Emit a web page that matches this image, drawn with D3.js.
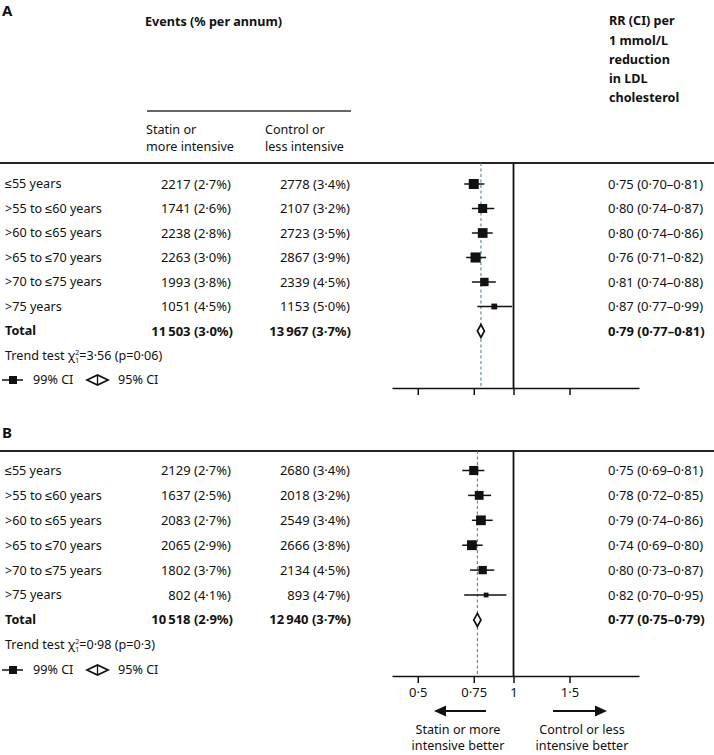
<!DOCTYPE html>
<html><head><meta charset="utf-8">
<script src="https://cdn.jsdelivr.net/npm/d3@7"></script>
<style>
html,body{margin:0;padding:0;background:#fff;}
svg text{font-family:"Noto Sans",sans-serif;fill:#111;}
</style></head>
<body><svg id="chart" width="714" height="755"></svg>
<script>
// ---------- DATA ----------
const ageGroups = ["≤55 years", ">55 to ≤60 years", ">60 to ≤65 years", ">65 to ≤70 years", ">70 to ≤75 years", ">75 years"];

const statinEventsA = [2217, 1741, 2238, 2263, 1993, 1051];
const statinPctA    = [2.7, 2.6, 2.8, 3.0, 3.8, 4.5];
const controlEventsA = [2778, 2107, 2723, 2867, 2339, 1153];
const controlPctA    = [3.4, 3.2, 3.5, 3.9, 4.5, 5.0];
const rrA   = [0.75, 0.80, 0.80, 0.76, 0.81, 0.87];
const rrLoA = [0.70, 0.74, 0.74, 0.71, 0.74, 0.77];
const rrHiA = [0.81, 0.87, 0.86, 0.82, 0.88, 0.99];
const totalA = {statin: 11503, statinPct: 3.0, control: 13967, controlPct: 3.7, rr: 0.79, lo: 0.77, hi: 0.81};
const trendA = {chi: "3·56", p: "0·06"};

const statinEventsB = [2129, 1637, 2083, 2065, 1802, 802];
const statinPctB    = [2.7, 2.5, 2.7, 2.9, 3.7, 4.1];
const controlEventsB = [2680, 2018, 2549, 2666, 2134, 893];
const controlPctB    = [3.4, 3.2, 3.4, 3.8, 4.5, 4.7];
const rrB   = [0.75, 0.78, 0.79, 0.74, 0.80, 0.82];
const rrLoB = [0.69, 0.72, 0.74, 0.69, 0.73, 0.70];
const rrHiB = [0.81, 0.85, 0.86, 0.80, 0.87, 0.95];
const totalB = {statin: 10518, statinPct: 2.9, control: 12940, controlPct: 3.7, rr: 0.77, lo: 0.75, hi: 0.79};
const trendB = {chi: "0·98", p: "0·3"};

const tickValues = [0.5, 0.75, 1, 1.5];
const tickLabels = ["0·5", "0·75", "1", "1·5"];

// ---------- HELPERS ----------
const FS = 12.6;   // word text
const FN = 13;     // numeric columns
const dot = s => String(s).replace(".", "·");
const fmtInt = n => n >= 10000 ? String(n).replace(/(\d)(?=(\d{3})+$)/g, "$1\u2009") : String(n);
const fmtPct = p => dot(p.toFixed(1)) + "%";
const fmtRR = v => dot(v.toFixed(2));

const svg = d3.select("#chart");
const x = d3.scaleLog().domain([0.415, 2.48]).range([392, 639]);
const sideK = 1.46; // square side ~ inverse of log CI width

function panel(cfg) {
  const g = svg.append("g");
  const rowY = i => cfg.rowTop + i * cfg.step;

  g.append("text").attr("x", 2).attr("y", cfg.letterY).attr("font-size", 15).attr("font-weight", 700).text(cfg.letter);

  g.append("line").attr("x1", 0).attr("x2", 714).attr("y1", cfg.ruleY).attr("y2", cfg.ruleY)
    .attr("stroke", "#222").attr("stroke-width", 2.2);

  const n = ageGroups.length;
  for (let i = 0; i < n; i++) {
    const y = rowY(i);
    g.append("text").attr("x", 5).attr("y", y).attr("dy", "0.35em").attr("font-size", FS).text(ageGroups[i]);
    g.append("text").attr("x", 231).attr("y", y).attr("dy", "0.35em").attr("font-size", FN).attr("text-anchor", "end")
      .text(fmtInt(cfg.statin[i]) + " (" + fmtPct(cfg.statinPct[i]) + ")");
    g.append("text").attr("x", 350).attr("y", y).attr("dy", "0.35em").attr("font-size", FN).attr("text-anchor", "end")
      .text(fmtInt(cfg.control[i]) + " (" + fmtPct(cfg.controlPct[i]) + ")");
    g.append("text").attr("x", 608).attr("y", y).attr("dy", "0.35em").attr("font-size", FN)
      .text(fmtRR(cfg.rr[i]) + " (" + fmtRR(cfg.lo[i]) + "–" + fmtRR(cfg.hi[i]) + ")");
  }
  const yT = rowY(n);
  const t = cfg.total;
  g.append("text").attr("x", 5).attr("y", yT).attr("dy", "0.35em").attr("font-size", FS).attr("font-weight", 700).text("Total");
  g.append("text").attr("x", 233).attr("y", yT).attr("dy", "0.35em").attr("font-size", FN).attr("font-weight", 700).attr("text-anchor", "end")
    .text(fmtInt(t.statin) + " (" + fmtPct(t.statinPct) + ")");
  g.append("text").attr("x", 351).attr("y", yT).attr("dy", "0.35em").attr("font-size", FN).attr("font-weight", 700).attr("text-anchor", "end")
    .text(fmtInt(t.control) + " (" + fmtPct(t.controlPct) + ")");
  g.append("text").attr("x", 608).attr("y", yT).attr("dy", "0.35em").attr("font-size", FN).attr("font-weight", 700)
    .text(fmtRR(t.rr) + " (" + fmtRR(t.lo) + "–" + fmtRR(t.hi) + ")");

  const tt = g.append("text").attr("x", 5).attr("y", cfg.trendY).attr("dy", "0.35em").attr("font-size", FS);
  tt.append("tspan").text("Trend test χ");
  tt.append("tspan").attr("font-size", 7).attr("dy", -5).text("2");
  tt.append("tspan").attr("font-size", 7).attr("dx", -4).attr("dy", 8).text("1");
  tt.append("tspan").attr("dy", -3).text("=" + cfg.trend.chi + " (p=" + cfg.trend.p + ")");

  const ly = cfg.legendY;
  g.append("line").attr("x1", 2).attr("x2", 23).attr("y1", ly).attr("y2", ly).attr("stroke", "#111").attr("stroke-width", 1.5);
  g.append("rect").attr("x", 9).attr("y", ly - 4).attr("width", 8).attr("height", 8).attr("fill", "#111");
  g.append("text").attr("x", 33).attr("y", ly).attr("dy", "0.35em").attr("font-size", FS).text("99% CI");
  g.append("path").attr("d", `M87,${ly} L97.5,${ly - 5} L108,${ly} L97.5,${ly + 5} Z`).attr("fill", "#fff").attr("stroke", "#111").attr("stroke-width", 1.7);
  g.append("line").attr("x1", 97.5).attr("x2", 97.5).attr("y1", ly - 5).attr("y2", ly + 5).attr("stroke", "#111").attr("stroke-width", 1.3);
  g.append("text").attr("x", 118).attr("y", ly).attr("dy", "0.35em").attr("font-size", FS).text("95% CI");

  g.append("line").attr("x1", x(1)).attr("x2", x(1)).attr("y1", cfg.ruleY).attr("y2", cfg.axisY)
    .attr("stroke", "#111").attr("stroke-width", 1.8);
  g.append("line").attr("x1", x(t.rr)).attr("x2", x(t.rr)).attr("y1", cfg.ruleY).attr("y2", cfg.axisY)
    .attr("stroke", "#5f8294").attr("stroke-width", 1.1).attr("stroke-dasharray", "3,2.5");

  for (let i = 0; i < n; i++) {
    const y = rowY(i);
    g.append("line").attr("x1", x(cfg.lo[i])).attr("x2", x(cfg.hi[i])).attr("y1", y).attr("y2", y)
      .attr("stroke", "#111").attr("stroke-width", 1.5);
    const s = sideK / Math.log(cfg.hi[i] / cfg.lo[i]);
    g.append("rect").attr("x", x(cfg.rr[i]) - s / 2).attr("y", y - s / 2).attr("width", s).attr("height", s).attr("fill", "#111");
  }
  g.append("path")
    .attr("d", `M${x(t.lo)},${yT} L${x(t.rr)},${yT - 6.5} L${x(t.hi)},${yT} L${x(t.rr)},${yT + 6.5} Z`)
    .attr("fill", "#fff").attr("stroke", "#111").attr("stroke-width", 1.7);

  const axis = d3.axisBottom(x).tickValues(tickValues).tickSize(7).tickSizeOuter(0)
    .tickFormat((d, i) => cfg.labels ? tickLabels[i] : "");
  const ag = g.append("g").attr("transform", `translate(0,${cfg.axisY})`).call(axis);
  ag.select(".domain").attr("stroke", "#111").attr("stroke-width", 1.5);
  ag.selectAll(".tick line").attr("stroke", "#111").attr("stroke-width", 1.5);
  ag.selectAll(".tick text").attr("font-size", FN).attr("font-family", "Noto Sans, sans-serif").attr("fill", "#111").attr("dy", "0.85em");
  return g;
}

svg.append("text").attr("x", 145).attr("y", 22).attr("dy", "0.35em").attr("font-size", FS).attr("font-weight", 700).text("Events (% per annum)");
svg.append("line").attr("x1", 147).attr("x2", 351).attr("y1", 111).attr("y2", 111).attr("stroke", "#333").attr("stroke-width", 1.3);
[["Statin or", "more intensive", 146], ["Control or", "less intensive", 265]].forEach(d => {
  svg.append("text").attr("x", d[2]).attr("y", 130).attr("dy", "0.35em").attr("font-size", FS).text(d[0]);
  svg.append("text").attr("x", d[2]).attr("y", 147).attr("dy", "0.35em").attr("font-size", FS).text(d[1]);
});
["RR (CI) per", "1 mmol/L", "reduction", "in LDL", "cholesterol"].forEach((s, i) => {
  svg.append("text").attr("x", 609).attr("y", 21 + i * 19.2).attr("dy", "0.35em").attr("font-size", FS).attr("font-weight", 700).text(s);
});

panel({letter: "A", letterY: 16, ruleY: 163, rowTop: 184, step: 24.5, trendY: 356, legendY: 380, axisY: 388, labels: false,
  statin: statinEventsA, statinPct: statinPctA, control: controlEventsA, controlPct: controlPctA,
  rr: rrA, lo: rrLoA, hi: rrHiA, total: totalA, trend: trendA});
panel({letter: "B", letterY: 438, ruleY: 451, rowTop: 470.5, step: 24.9, trendY: 645, legendY: 670, axisY: 676, labels: true,
  statin: statinEventsB, statinPct: statinPctB, control: controlEventsB, controlPct: controlPctB,
  rr: rrB, lo: rrLoB, hi: rrHiB, total: totalB, trend: trendB});

const ay = 711;
svg.append("line").attr("x1", 445).attr("x2", 486).attr("y1", ay).attr("y2", ay).attr("stroke", "#111").attr("stroke-width", 2);
svg.append("path").attr("d", `M434,${ay} L446,${ay - 5.5} L446,${ay + 5.5} Z`).attr("fill", "#111");
svg.append("line").attr("x1", 553).attr("x2", 595).attr("y1", ay).attr("y2", ay).attr("stroke", "#111").attr("stroke-width", 2);
svg.append("path").attr("d", `M607,${ay} L595,${ay - 5.5} L595,${ay + 5.5} Z`).attr("fill", "#111");
[["Statin or more", "intensive better", 458], ["Control or less", "intensive better", 582]].forEach(d => {
  svg.append("text").attr("x", d[2]).attr("y", 730).attr("dy", "0.35em").attr("font-size", FS).attr("text-anchor", "middle").text(d[0]);
  svg.append("text").attr("x", d[2]).attr("y", 746).attr("dy", "0.35em").attr("font-size", FS).attr("text-anchor", "middle").text(d[1]);
});
</script></body></html>
